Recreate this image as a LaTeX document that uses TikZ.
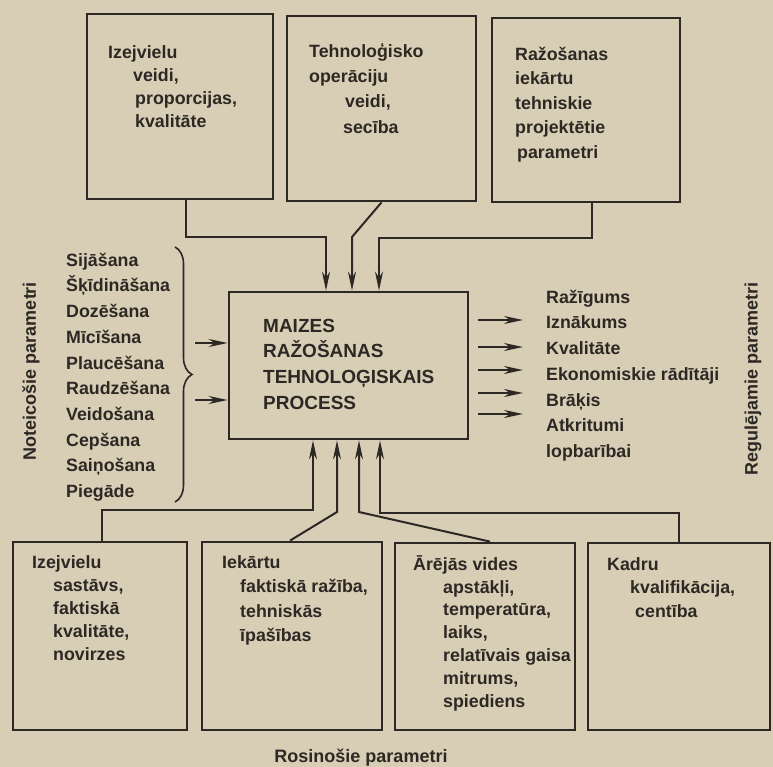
\documentclass[tikz,border=0pt]{standalone}
\usepackage{fontspec}
\setmainfont{Liberation Sans}
\usetikzlibrary{arrows.meta,decorations.pathreplacing}
\definecolor{paper}{RGB}{216,206,182}
\definecolor{ink}{RGB}{45,40,36}
\newcommand{\topline}{\rule{0pt}{18pt}}

\begin{document}
\begin{tikzpicture}[x=1pt, y=-1pt,
  box/.style={draw=ink, line width=2.8pt, inner sep=0pt},
  txt/.style={anchor=north west, inner sep=0pt, align=left, text=ink, font=\bfseries\fontsize{17.8}{#1}\selectfont},
  txt/.default=24,
  lbl/.style={inner sep=0pt, text=ink, font=\bfseries\fontsize{18}{20}\selectfont},
  conn/.style={draw=ink, line width=2pt, -{Stealth[length=19pt, width=8pt, inset=6pt]}}
]
\useasboundingbox (0,0) rectangle (773,767);
\fill[paper] (0,0) rectangle (773,767);

\node[box, minimum width=186, minimum height=185] (t1) at (180,106.5) {};
\node[box, minimum width=189, minimum height=185] (t2) at (381.5,108.5) {};
\node[box, minimum width=188, minimum height=184] (t3) at (586,110) {};
\node[box, minimum width=239, minimum height=147] (main) at (348.5,365.5) {};
\node[box, minimum width=174, minimum height=188] (b1) at (100,636) {};
\node[box, minimum width=180, minimum height=188] (b2) at (292,636) {};
\node[box, minimum width=180, minimum height=187] (b3) at (485,636.5) {};
\node[box, minimum width=182, minimum height=187] (b4) at (679,636.5) {};

\node[txt=23] (t1txt) at (108,40) {\topline Izejvielu\\\hspace*{25pt}veidi,\\\hspace*{27pt}proporcijas,\\\hspace*{27pt}kvalitāte};
\node[txt=25.3] (t2txt) at (309,39) {\topline Tehnoloģisko\\operāciju\\\hspace*{36pt}veidi,\\\hspace*{34pt}secība};
\node[txt=24.5] (t3txt) at (515,42) {\topline Ražošanas\\iekārtu\\tehniskie\\projektētie\\\hspace*{2pt}parametri};
\node[txt, font=\bfseries\fontsize{19}{25.7}\selectfont] (maintxt) at (263,313.8) {\topline MAIZES\\RAŽOŠANAS\\TEHNOLOĢISKAIS\\PROCESS};
\node[txt=25.7] (ops) at (66,248) {\topline Sijāšana\\Šķīdināšana\\Dozēšana\\Mīcīšana\\Plaucēšana\\Raudzēšana\\Veidošana\\Cepšana\\Saiņošana\\Piegāde};
\node[txt=25.7] (outs) at (546,285) {\topline Ražīgums\\Iznākums\\Kvalitāte\\Ekonomiskie rādītāji\\Brāķis\\Atkritumi\\lopbarībai};
\node[txt=23] (b1txt) at (32,550) {\topline Izejvielu\\\hspace*{21pt}sastāvs,\\\hspace*{21pt}faktiskā\\\hspace*{21pt}kvalitāte,\\\hspace*{21pt}novirzes};
\node[txt=24.5] (b2txt) at (222,550) {\topline Iekārtu\\\hspace*{18pt}faktiskā ražība,\\\hspace*{18pt}tehniskās\\\hspace*{18pt}īpašības};
\node[txt=22.8] (b3txt) at (413,552) {\topline Ārējās vides\\\hspace*{30pt}apstākļi,\\\hspace*{30pt}temperatūra,\\\hspace*{30pt}laiks,\\\hspace*{30pt}relatīvais gaisa\\\hspace*{30pt}mitrums,\\\hspace*{30pt}spiediens};
\node[txt=23.5] (b4txt) at (607,552) {\topline Kadru\\\hspace*{23pt}kvalifikācija,\\\hspace*{28pt}centība};

\node[lbl, rotate=90] (noteic) at (31,371) {Noteicošie parametri};
\node[lbl, rotate=90] (regul) at (753,379) {Regulējamie parametri};
\node[lbl] (rosin) at (361,758) {Rosinošie parametri};

\coordinate (ta) at (326,237);
\coordinate (tb) at (352,237);
\coordinate (tc) at (379,238);
\draw[conn] ([xshift=6pt]t1.south) |- (ta) -- (ta |- main.north);
\draw[conn] (t2.south) -- (tb) -- (tb |- main.north);
\draw[conn] ([xshift=6pt]t3.south) |- (tc) -- (tc |- main.north);

\coordinate (ba) at (313,510);
\coordinate (bb) at (337,512);
\coordinate (bc) at (359,512);
\coordinate (bd) at (380,513);
\draw[conn] ([xshift=2pt]b1.north) |- (ba) -- (ba |- main.south);
\draw[conn] ([xshift=-2pt]b2.north) -- (bb) -- (bb |- main.south);
\draw[conn] ([xshift=5pt]b3.north) -- (bc) -- (bc |- main.south);
\draw[conn] (b4.north) |- (bd) -- (bd |- main.south);

\coordinate (la) at (195,343);
\coordinate (lb) at (195,400);
\draw[conn] (la) -- (la -| main.west);
\draw[conn] (lb) -- (lb -| main.west);

\coordinate (re) at (523,0);
\coordinate (r1) at (478,320);
\coordinate (r2) at (478,347);
\coordinate (r3) at (478,370);
\coordinate (r4) at (478,393);
\coordinate (r5) at (478,414);
\draw[conn] (r1) -- (r1 -| re);
\draw[conn] (r2) -- (r2 -| re);
\draw[conn] (r3) -- (r3 -| re);
\draw[conn] (r4) -- (r4 -| re);
\draw[conn] (r5) -- (r5 -| re);

\coordinate (bt) at (175,247);
\coordinate (bq) at (175,502);
\draw[ink, line width=1.6pt, decorate, decoration={brace, amplitude=17pt}] (bt) -- (bq);
\end{tikzpicture}
\end{document}
